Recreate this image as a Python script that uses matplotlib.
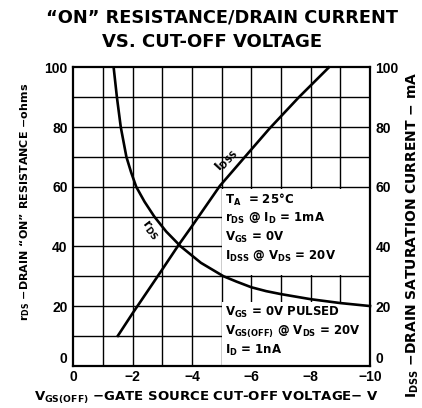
import matplotlib
matplotlib.use("Agg")
from matplotlib import pyplot as plt
from matplotlib.patches import Rectangle

plt.rcParams['font.family'] = ['Liberation Sans', 'DejaVu Sans']
plt.rcParams['font.weight'] = 'bold'
plt.rcParams['mathtext.fontset'] = 'custom'
plt.rcParams['mathtext.rm'] = 'DejaVu Sans:bold'
plt.rcParams['mathtext.it'] = 'DejaVu Sans:bold'
plt.rcParams['mathtext.bf'] = 'DejaVu Sans:bold'
LBL = ['DejaVu Sans']

rds_v = [-1.36, -1.47, -1.6, -1.79, -1.95, -2.12, -2.4, -2.73, -3.13, -3.62,
         -4.3, -5.06, -5.5, -6.0, -6.5, -7.0, -8.0, -9.0, -10.0]
rds_ohms = [100, 90, 80, 70, 64.8, 60, 55, 50, 45, 40,
            34.5, 30, 28.2, 26.3, 25, 24, 22.3, 21, 20]

idss_v = [-1.5, -2.0, -2.96, -3.55, -4.0, -4.94, -6.0, -6.61, -7.6, -8.61]
idss_ma = [10, 17.6, 31.7, 40.5, 46.8, 60.3, 72.5, 79.5, 90, 100]

x_ticks = [0, -2, -4, -6, -8, -10]
x_ticklabels = ['0', '\u22122', '\u22124', '\u22126', '\u22128', '\u221210']
y_ticks = [0, 20, 40, 60, 80, 100]

fig = plt.figure(figsize=(4.22, 4.08), dpi=100)
ax = fig.add_axes([0.1737, 0.1037, 0.7031, 0.7309])
ax.set_xlim(0, -10)
ax.set_ylim(0, 100)

# grid every 1 V / 10 units
for v in range(-1, -10, -1):
    ax.axvline(v, color='black', lw=1.0, zorder=1)
for r in range(10, 100, 10):
    ax.axhline(r, color='black', lw=1.0, zorder=1)

# white areas behind the condition text
ax.add_patch(Rectangle((0.5, 0.305), 0.5, 0.289, transform=ax.transAxes,
                       facecolor='white', edgecolor='none', zorder=2))
ax.add_patch(Rectangle((0.5, 0.0), 0.5, 0.212, transform=ax.transAxes,
                       facecolor='white', edgecolor='none', zorder=2))

ax.plot(rds_v, rds_ohms, color='black', lw=1.9, zorder=3, clip_on=False,
        solid_joinstyle='round')
ax.plot(idss_v, idss_ma, color='black', lw=1.9, zorder=3, clip_on=False,
        solid_joinstyle='round')

for s in ax.spines.values():
    s.set_linewidth(1.6)
    s.set_zorder(4)

ax.set_xticks(x_ticks)
ax.set_xticklabels(x_ticklabels)
ax.set_yticks(y_ticks)
ax.tick_params(length=0, labelsize=10, pad=4)
ax.tick_params(axis='y', labelright=True, right=False)
ax.tick_params(axis='x', pad=3)
zero_tick = ax.yaxis.get_major_ticks()[0]
zero_tick.label1.set_va('bottom')
zero_tick.label2.set_va('bottom')

ax.set_xlabel('V$_{GS(OFF)}$ \u2212GATE SOURCE CUT-OFF VOLTAGE\u2212 V',
              fontsize=9.5, family=LBL, fontweight='bold', labelpad=5)
ax.xaxis.set_label_coords(0.45, -0.08)
ax.set_ylabel('r$_{DS}$ \u2212DRAIN \u201cON\u201d RESISTANCE \u2212ohms',
              fontsize=8, family=LBL, fontweight='bold', labelpad=10)
ax.yaxis.set_label_coords(-0.14, 0.55)
fig.text(0.978, 0.425, 'I$_{DSS}$ \u2212DRAIN SATURATION CURRENT \u2212 mA',
         rotation=90, ha='center', va='center', fontsize=10, family=LBL,
         fontweight='bold')

fig.text(0.525, 0.958, '\u201cON\u201d RESISTANCE/DRAIN CURRENT', ha='center',
         va='center', fontsize=12.8, family=LBL, fontweight='bold')
fig.text(0.503, 0.898, 'VS. CUT-OFF VOLTAGE', ha='center', va='center',
         fontsize=13, family=LBL, fontweight='bold')

ax.text(-5.15, 69, 'I$_{DSS}$', rotation=47, ha='center', va='center',
        fontsize=9, family=LBL, zorder=5)
ax.text(-2.6, 45.5, 'r$_{DS}$', rotation=-52, ha='center', va='center',
        fontsize=9, family=LBL, zorder=5)

cond1 = ['T$_A$  = 25\u00b0C', 'r$_{DS}$ @ I$_D$ = 1mA', 'V$_{GS}$ = 0V',
         'I$_{DSS}$ @ V$_{DS}$ = 20V']
for i, line in enumerate(cond1):
    ax.text(-5.1, 55.6 - i * 6.3, line, ha='left', va='center', fontsize=8.5,
            family=LBL, zorder=5)
cond2 = ['V$_{GS}$ = 0V PULSED', 'V$_{GS(OFF)}$ @ V$_{DS}$ = 20V', 'I$_D$ = 1nA']
for i, line in enumerate(cond2):
    ax.text(-5.1, 17.8 - i * 6.3, line, ha='left', va='center', fontsize=8.5,
            family=LBL, zorder=5)

fig.savefig('out.png', dpi=100)
